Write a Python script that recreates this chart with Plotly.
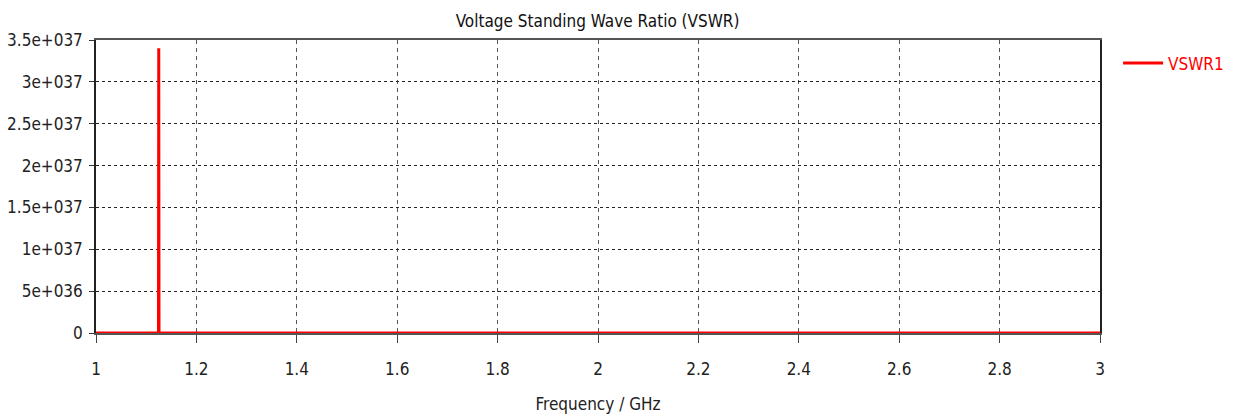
import plotly.graph_objects as go

freq_ghz = [1.0, 1.1245, 1.125, 1.1255, 3.0]
vswr1 = [0.0, 0.0, 3.4e37, 0.0, 0.0]

y_tickvals = [0, 5e36, 1e37, 1.5e37, 2e37, 2.5e37, 3e37, 3.5e37]
y_ticktext = ["0", "5e+036", "1e+037", "1.5e+037", "2e+037", "2.5e+037", "3e+037", "3.5e+037"]
x_tickvals = [1, 1.2, 1.4, 1.6, 1.8, 2, 2.2, 2.4, 2.6, 2.8, 3]
x_ticktext = ["1", "1.2", "1.4", "1.6", "1.8", "2", "2.2", "2.4", "2.6", "2.8", "3"]

FONT = "DejaVu Sans Condensed, Liberation Sans Narrow, sans-serif"

fig = go.Figure()
fig.add_trace(go.Scatter(x=freq_ghz, y=vswr1, mode="lines", name="VSWR1",
                         line=dict(color="#ff0000", width=3)))

fig.update_layout(
    width=1236, height=416,
    margin=dict(l=96, r=136, t=40, b=83, autoexpand=False),
    paper_bgcolor="white", plot_bgcolor="white",
    font=dict(family=FONT, size=17, color="#222222"),
    title=dict(text="Voltage Standing Wave Ratio (VSWR)", x=0.4835, xanchor="center",
               y=0.95, yanchor="middle", font=dict(size=17, color="#111111")),
    showlegend=True,
    legend=dict(x=1.018, y=0.92, xanchor="left", yanchor="middle", itemwidth=40,
                font=dict(color="#ff0000", size=17), bgcolor="rgba(0,0,0,0)"),
    xaxis=dict(range=[1, 3], tickvals=x_tickvals, ticktext=x_ticktext,
               showgrid=True, gridcolor="#555555", griddash="4px,4px", gridwidth=1,
               ticks="outside", ticklen=8, tickcolor="#444444",
               ticklabelstandoff=12, automargin=False,
               showline=True, linecolor="#555555", mirror=True, linewidth=1.5,
               zeroline=False,
               title=dict(text="Frequency / GHz", standoff=20, font=dict(size=17))),
    yaxis=dict(range=[0, 3.5e37], tickvals=y_tickvals, ticktext=y_ticktext,
               showgrid=True, gridcolor="#222222", griddash="3px,3px", gridwidth=1,
               ticks="outside", ticklen=5, tickcolor="#333333",
               ticklabelstandoff=3, automargin=False,
               showline=True, linecolor="#222222", mirror=True, linewidth=1.5,
               zeroline=False),
)

fig.write_html("out.html")
